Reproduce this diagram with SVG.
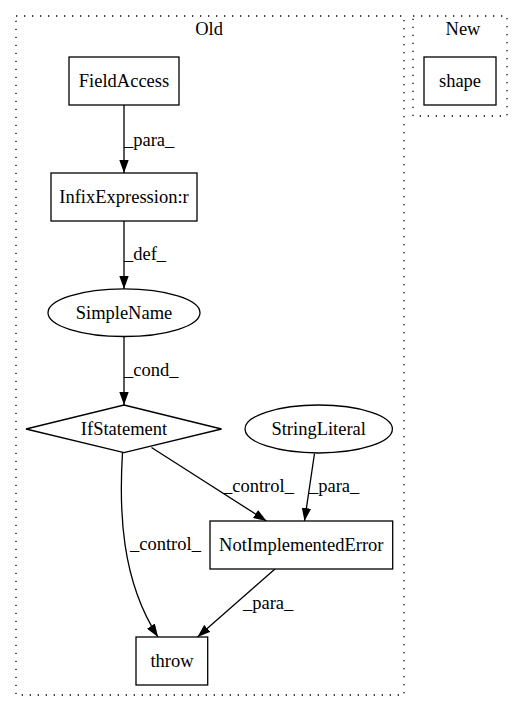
<svg xmlns="http://www.w3.org/2000/svg" width="527" height="712" viewBox="0 0 527 712">
<style>
text { font-family: "Liberation Serif", "Times New Roman", serif; font-size: 18.5px; fill: #000; }
.c { text-anchor: middle; }
.cluster { fill: none; stroke: #000; stroke-width: 1.3; stroke-dasharray: 1.3,6.7; }
.node { fill: #fff; stroke: #000; stroke-width: 1.3; }
.edge { fill: none; stroke: #000; stroke-width: 1.3; marker-end: url(#arrow); }
</style>
<defs>
<marker id="arrow" viewBox="0 0 13 9.4" refX="13" refY="4.7" markerWidth="13" markerHeight="9.4" markerUnits="userSpaceOnUse" orient="auto">
<path d="M0,0 L13,4.7 L0,9.4 z" fill="#000"/>
</marker>
</defs>
<rect width="527" height="712" fill="#fff"/>
<g id="cluster_old">
<rect class="cluster" x="16" y="16" width="388" height="679"/>
<text class="c" x="209" y="35">Old</text>
</g>
<g id="cluster_new">
<rect class="cluster" x="413" y="16" width="94" height="100"/>
<text class="c" x="463" y="35">New</text>
</g>
<g id="edges">
<path class="edge" d="M124,105 L124,173"/>
<text x="124" y="146">_para_</text>
<path class="edge" d="M124,221 L124,289"/>
<text x="124" y="260">_def_</text>
<path class="edge" d="M124,336.5 L124,405"/>
<text x="124" y="376">_cond_</text>
<path class="edge" d="M151.5,447.5 L266.5,521"/>
<text x="223" y="492">_control_</text>
<path class="edge" d="M314.5,453.5 L304.5,521"/>
<text x="309" y="492">_para_</text>
<path class="edge" d="M122.5,452.6 C119,510 121,580 158,637"/>
<text x="130" y="550">_control_</text>
<path class="edge" d="M275,569 L197.5,637"/>
<text x="243" y="609">_para_</text>
</g>
<g id="node_fieldaccess">
<rect class="node" x="69" y="57" width="110" height="48"/>
<text class="c" x="124" y="87">FieldAccess</text>
</g>
<g id="node_shape">
<rect class="node" x="424" y="57" width="72" height="48"/>
<text class="c" x="460" y="87">shape</text>
</g>
<g id="node_infix">
<rect class="node" x="51" y="173" width="146" height="48"/>
<text class="c" x="124" y="203">InfixExpression:r</text>
</g>
<g id="node_simplename">
<ellipse class="node" cx="124" cy="312.7" rx="76" ry="23.8"/>
<text class="c" x="124" y="318.7">SimpleName</text>
</g>
<g id="node_ifstatement">
<polygon class="node" points="124,405 221.5,429 124,452.7 26,429"/>
<text class="c" x="124" y="435">IfStatement</text>
</g>
<g id="node_stringliteral">
<ellipse class="node" cx="318.7" cy="429" rx="73.7" ry="24"/>
<text class="c" x="318.7" y="435">StringLiteral</text>
</g>
<g id="node_notimpl">
<rect class="node" x="210" y="521" width="182.7" height="48"/>
<text class="c" x="301.3" y="551">NotImplementedError</text>
</g>
<g id="node_throw">
<rect class="node" x="136" y="637" width="71.7" height="48"/>
<text class="c" x="172" y="667">throw</text>
</g>
</svg>
